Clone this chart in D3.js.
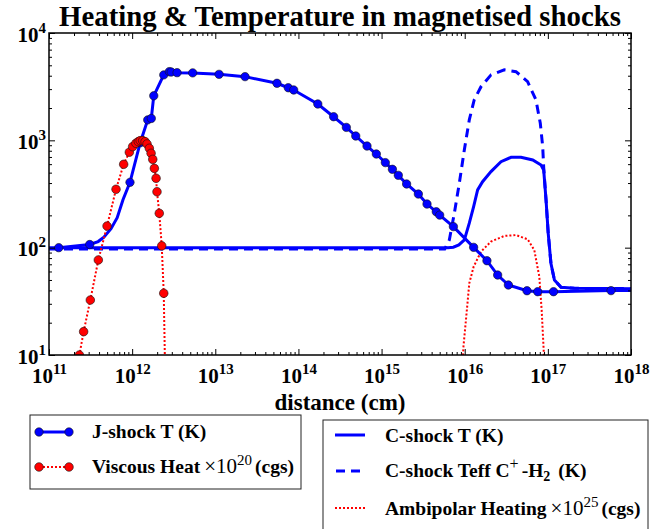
<!DOCTYPE html>
<html>
<head>
<meta charset="utf-8">
<script src="https://cdn.jsdelivr.net/npm/d3@7"></script>
<style>
  body { margin: 0; background: #fff; }
</style>
</head>
<body>
<div id="chart"></div>
<script>
// J-shock temperature (K); jDot = 1 where a marker is drawn
const jX = [1.31e11, 3.09e11, 3.9e11, 4.57e11, 5.57e11, 6.61e11, 7.76e11, 9.42e11, 1.25e12, 1.54e12, 1.70e12, 1.82e12,
  2.40e12, 2.80e12, 2.95e12, 3.47e12, 5.35e12, 1.11e13, 2.28e13, 5.52e13, 7.55e13, 8.77e13, 1.71e14, 2.65e14,
  3.77e14, 4.89e14, 6.68e14, 8.65e14, 1.11e15, 1.35e15, 1.59e15, 2.00e15, 2.77e15, 3.52e15, 4.55e15, 5.00e15,
  7.31e15, 1.28e16, 1.85e16, 2.49e16, 3.35e16, 5.61e16, 7.55e16, 1.17e17, 5.75e17, 1e18]
const jT = [100, 107, 114, 125, 150, 190, 280, 406, 950, 1550, 1600, 2600,
  4070, 4365, 4330, 4270, 4250, 4120, 3920, 3400, 3090, 2945, 2180, 1660,
  1320, 1097, 885, 746, 620, 537, 472, 392, 316, 255, 216, 201,
  157, 100.7, 75.6, 55.6, 44.9, 39.7, 38.9, 38.9, 39.8, 39.8]
const jDot = [1, 1, 0, 0, 0, 0, 0, 1, 1, 1, 1, 1,
  1, 1, 1, 1, 1, 1, 1, 1, 1, 1, 1, 1,
  1, 1, 1, 1, 1, 1, 1, 1, 1, 1, 1, 1,
  1, 1, 1, 1, 1, 1, 1, 1, 1, 0]

// viscous heating x 1e20 (cgs)
const vX = [2.19e11, 2.32e11, 2.61e11, 3.14e11, 3.92e11, 4.99e11, 6.40e11, 7.91e11, 9.25e11, 1.014e12, 1.11e12,
  1.186e12, 1.25e12, 1.34e12, 1.43e12, 1.51e12, 1.61e12, 1.69e12, 1.77e12, 1.85e12, 1.94e12, 1.99e12,
  2.12e12, 2.27e12, 2.40e12, 2.51e12]
const vH = [7, 10, 16.5, 32.5, 76.8, 159, 350, 598, 775, 873, 938,
  972, 993, 993, 972, 925, 843, 757, 665, 548, 443, 332,
  209, 104, 37.6, 5]

// C-shock temperature (K)
const cX = [1e11, 6.3e15, 7.3e15, 8.5e15, 9.9e15, 1.135e16, 1.28e16, 1.43e16, 1.64e16, 2.07e16, 2.73e16, 3.61e16,
  4.75e16, 6.58e16, 8.28e16, 8.91e16, 9.51e16, 1.01e17, 1.09e17, 1.20e17, 1.44e17, 2.08e17, 1e18]
const cT = [100, 100, 101, 106, 118, 169, 241, 345, 412, 511, 633, 695,
  695, 656, 589, 530, 278, 136, 71, 50, 42.7, 41.8, 41.5]

// C-shock effective temperature C+ - H2 (K)
const eX = [1e11, 5.75e15, 6.53e15, 7.5e15, 8.61e15, 9.89e15, 1.135e16, 1.30e16, 1.57e16, 2.07e16, 2.99e16, 4.14e16,
  5.71e16, 7.19e16, 8.11e16, 8.67e16, 8.91e16, 9.51e16, 1.01e17, 1.09e17, 1.20e17, 1.44e17, 2.08e17, 1e18]
const eT = [97, 97, 118, 209, 398, 813, 1550, 2380, 3160, 4070, 4530, 4365,
  3520, 2380, 1443, 873, 560, 278, 136, 71, 50, 42.7, 41.8, 41.5]

// ambipolar heating x 1e25 (cgs)
const aX = [9.1e15, 9.66e15, 1.06e16, 1.135e16, 1.28e16, 1.57e16, 2.07e16, 2.99e16, 4.14e16, 5.71e16, 6.87e16,
  7.89e16, 8.43e16, 8.91e16, 9.12e16]
const aH = [5, 12, 26, 46.6, 66.5, 91.8, 114, 128.6, 131, 119.7, 95,
  53.7, 26, 11, 5]

const xMajor = [1e11, 1e12, 1e13, 1e14, 1e15, 1e16, 1e17, 1e18]
const yMajor = [1e1, 1e2, 1e3, 1e4]

const width = 651, height = 529
const L = 49, R = 631, T = 33, B = 355
const blue = '#0000ff', red = '#ff0000'
const serif = '"Liberation Serif", "DejaVu Serif", serif'

const svg = d3.select('#chart').append('svg')
  .attr('width', width)
  .attr('height', height)
  .attr('font-family', serif)
  .attr('font-weight', 'bold')

const x = d3.scaleLog().domain([1e11, 1e18]).range([L, R])
const y = d3.scaleLog().domain([10, 1e4]).range([B, T])

const minors = (lo, hi) => {
  const out = []
  for (let e = lo; e < hi; e++) for (let k = 2; k < 10; k++) out.push(k * Math.pow(10, e))
  return out
}

svg.append('clipPath').attr('id', 'plot')
  .append('rect').attr('x', L).attr('y', T).attr('width', R - L).attr('height', B - T)

const zip = (a, b) => a.map((v, i) => [v, b[i]])
const line = d3.line().x(d => x(d[0])).y(d => y(d[1]))
const g = svg.append('g').attr('clip-path', 'url(#plot)')

// C-shock curves first
g.append('path').attr('d', line(zip(cX, cT)))
  .attr('fill', 'none').attr('stroke', blue).attr('stroke-width', 3)
g.append('path').attr('d', line(zip(eX, eT)))
  .attr('fill', 'none').attr('stroke', blue).attr('stroke-width', 3)
  .attr('stroke-dasharray', '9,6')
g.append('path').attr('d', line(zip(aX, aH)))
  .attr('fill', 'none').attr('stroke', red).attr('stroke-width', 2)
  .attr('stroke-dasharray', '2,2')

// J-shock
const jData = zip(jX, jT)
g.append('path').attr('d', line(jData))
  .attr('fill', 'none').attr('stroke', blue).attr('stroke-width', 3)
g.selectAll('circle.j').data(jData.filter((d, i) => jDot[i]))
  .enter().append('circle').attr('class', 'j')
  .attr('cx', d => x(d[0])).attr('cy', d => y(d[1])).attr('r', 4.2)
  .attr('fill', blue).attr('stroke', '#111').attr('stroke-width', 0.6)

const vData = zip(vX, vH)
g.append('path').attr('d', line(vData))
  .attr('fill', 'none').attr('stroke', red).attr('stroke-width', 2)
  .attr('stroke-dasharray', '2,2')
g.selectAll('circle.v').data(vData)
  .enter().append('circle').attr('class', 'v')
  .attr('cx', d => x(d[0])).attr('cy', d => y(d[1])).attr('r', 4.3)
  .attr('fill', red).attr('stroke', '#111').attr('stroke-width', 0.6)

// axes, ticks pointing inwards on all four sides
const addAxis = (axis, tx, ty) => {
  const a = svg.append('g').attr('transform', `translate(${tx},${ty})`).call(axis)
  a.attr('font-family', serif).attr('font-size', null)
  a.select('.domain').remove()
  a.selectAll('line').attr('stroke', '#000').attr('stroke-width', 1)
  return a
}
const noLabel = () => ''
addAxis(d3.axisBottom(x).tickValues(minors(11, 18)).tickSize(-3).tickFormat(noLabel), 0, B)
addAxis(d3.axisTop(x).tickValues(minors(11, 18)).tickSize(-3).tickFormat(noLabel), 0, T)
addAxis(d3.axisTop(x).tickValues(xMajor).tickSize(-6).tickFormat(noLabel), 0, T)
addAxis(d3.axisLeft(y).tickValues(minors(1, 4)).tickSize(-3).tickFormat(noLabel), L, 0)
addAxis(d3.axisRight(y).tickValues(minors(1, 4)).tickSize(-3).tickFormat(noLabel), R, 0)
addAxis(d3.axisRight(y).tickValues(yMajor).tickSize(-6).tickFormat(noLabel), R, 0)

const xAxis = addAxis(d3.axisBottom(x).tickValues(xMajor).tickSize(-6), 0, B)
xAxis.selectAll('.tick text').each(function (d) {
  const t = d3.select(this).text(null)
    .attr('y', 28).attr('dy', null).attr('fill', '#000')
    .attr('font-size', 21).attr('text-anchor', 'middle')
  t.append('tspan').text('10')
  t.append('tspan').attr('dy', -9).attr('font-size', 15).text(Math.round(Math.log10(d)))
})
const yAxis = addAxis(d3.axisLeft(y).tickValues(yMajor).tickSize(-6), L, 0)
yAxis.selectAll('.tick text').each(function (d) {
  const t = d3.select(this).text(null)
    .attr('x', -3).attr('dy', null).attr('y', 8).attr('fill', '#000')
    .attr('font-size', 21).attr('text-anchor', 'end')
  t.append('tspan').text('10')
  t.append('tspan').attr('dy', -9).attr('font-size', 15).text(Math.round(Math.log10(d)))
})

svg.append('rect').attr('x', L).attr('y', T).attr('width', R - L).attr('height', B - T)
  .attr('fill', 'none').attr('stroke', '#000').attr('stroke-width', 1.5)

svg.append('text').attr('x', (L + R) / 2).attr('y', 26).attr('text-anchor', 'middle')
  .attr('font-size', 28.8).text('Heating & Temperature in magnetised shocks')
svg.append('text').attr('x', (L + R) / 2).attr('y', 410).attr('text-anchor', 'middle')
  .attr('font-size', 23).text('distance (cm)')

// legends
const leg1 = svg.append('g')
leg1.append('rect').attr('x', 30).attr('y', 415).attr('width', 271).attr('height', 74)
  .attr('fill', '#fff').attr('stroke', '#222').attr('stroke-width', 1)
leg1.append('line').attr('x1', 39).attr('x2', 69).attr('y1', 432).attr('y2', 432)
  .attr('stroke', blue).attr('stroke-width', 3)
leg1.selectAll('circle.lj').data([39, 69]).enter().append('circle')
  .attr('cx', d => d).attr('cy', 432).attr('r', 4.2)
  .attr('fill', blue).attr('stroke', '#111').attr('stroke-width', 0.6)
leg1.append('line').attr('x1', 39).attr('x2', 69).attr('y1', 467).attr('y2', 467)
  .attr('stroke', red).attr('stroke-width', 2).attr('stroke-dasharray', '2,2')
leg1.selectAll('circle.lv').data([39, 69]).enter().append('circle')
  .attr('cx', d => d).attr('cy', 467).attr('r', 4.3)
  .attr('fill', red).attr('stroke', '#111').attr('stroke-width', 0.6)
leg1.append('text').attr('x', 92).attr('y', 438).attr('font-size', 19.5).text('J-shock T (K)')
const vt = leg1.append('text').attr('x', 92).attr('y', 473).attr('font-size', 19.5)
vt.append('tspan').text('Viscous Heat')
vt.append('tspan').attr('dx', 4).attr('font-weight', 'normal').attr('font-size', 21).text('×10')
vt.append('tspan').attr('font-weight', 'normal').attr('font-size', 15).attr('dy', -8).text('20')
vt.append('tspan').attr('dy', 8).attr('dx', 3).text('(cgs)')

const leg2 = svg.append('g')
leg2.append('rect').attr('x', 323).attr('y', 420).attr('width', 325).attr('height', 130)
  .attr('fill', '#fff').attr('stroke', '#222').attr('stroke-width', 1)
leg2.append('line').attr('x1', 335).attr('x2', 365).attr('y1', 435).attr('y2', 435)
  .attr('stroke', blue).attr('stroke-width', 3)
leg2.append('line').attr('x1', 335).attr('x2', 365).attr('y1', 471).attr('y2', 471)
  .attr('stroke', blue).attr('stroke-width', 3).attr('stroke-dasharray', '9,6').attr('stroke-dashoffset', -1)
leg2.append('line').attr('x1', 335).attr('x2', 365).attr('y1', 508).attr('y2', 508)
  .attr('stroke', red).attr('stroke-width', 2).attr('stroke-dasharray', '2,2')
leg2.append('text').attr('x', 385).attr('y', 442).attr('font-size', 19.5).text('C-shock T (K)')
const et = leg2.append('text').attr('x', 385).attr('y', 477).attr('font-size', 19.5)
et.append('tspan').text('C-shock Teff C')
et.append('tspan').attr('font-weight', 'normal').attr('font-size', 16).attr('dy', -8).text('+')
et.append('tspan').attr('dy', 8).attr('dx', 3).text('-H')
et.append('tspan').attr('font-size', 14).attr('dy', 4).text('2')
et.append('tspan').attr('dy', -4).attr('dx', 8).text('(K)')
const at = leg2.append('text').attr('x', 385).attr('y', 515).attr('font-size', 19.5)
at.append('tspan').text('Ambipolar Heating')
at.append('tspan').attr('dx', 4).attr('font-weight', 'normal').attr('font-size', 21).text('×10')
at.append('tspan').attr('font-weight', 'normal').attr('font-size', 15).attr('dy', -8).text('25')
at.append('tspan').attr('dy', 8).attr('dx', 3).text('(cgs)')
</script>
</body>
</html>
